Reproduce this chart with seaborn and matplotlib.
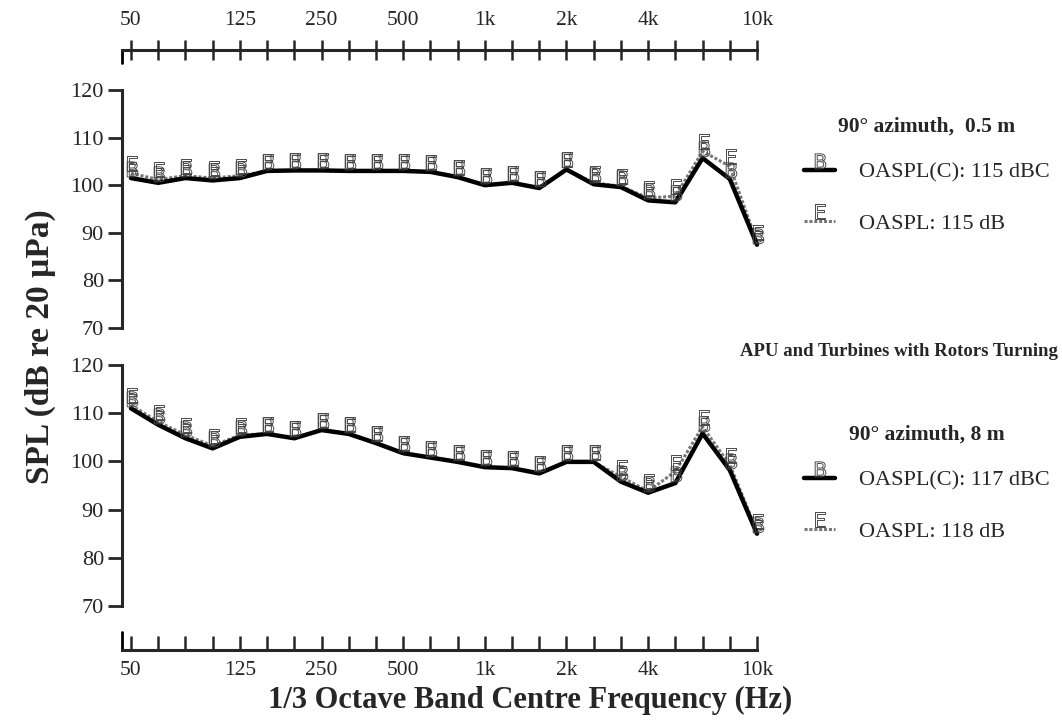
import numpy as np
import pandas as pd
import seaborn as sns
import matplotlib
matplotlib.use("Agg")
import matplotlib.pyplot as plt
from matplotlib.textpath import TextPath
from matplotlib.font_manager import FontProperties
from matplotlib.markers import MarkerStyle
from matplotlib.path import Path
from matplotlib.lines import Line2D

# ---------------- data ----------------
bands = ['50', '63', '80', '100', '125', '160', '200', '250', '315', '400', '500', '630',
         '800', '1k', '1.25k', '1.6k', '2k', '2.5k', '3.15k', '4k', '5k', '6.3k', '8k', '10k']
tick_labels = ['50', '125', '250', '500', '1k', '2k', '4k', '10k']

top_c = [101.5, 100.5, 101.5, 101.0, 101.5, 103.0, 103.1, 103.1, 103.0, 103.0, 103.0, 102.8,
         101.7, 100.0, 100.5, 99.4, 103.3, 100.2, 99.6, 96.8, 96.4, 105.7, 101.3, 87.5]
top_flat = [102.5, 101.2, 102.0, 101.5, 102.0, 103.0, 103.1, 103.1, 103.0, 103.0, 103.0, 102.8,
            101.7, 100.0, 100.5, 99.4, 103.3, 100.5, 99.8, 97.3, 97.7, 107.1, 104.0, 88.0]
bot_c = [111.0, 107.6, 104.8, 102.7, 105.1, 105.7, 104.8, 106.5, 105.7, 103.8, 101.7, 100.8,
         99.9, 98.8, 98.6, 97.5, 99.9, 99.9, 95.8, 93.5, 95.5, 105.8, 98.2, 85.0]
bot_flat = [111.7, 108.2, 105.5, 103.2, 105.5, 105.7, 104.8, 106.5, 105.7, 103.8, 101.7, 100.8,
            99.9, 98.8, 98.6, 97.5, 99.9, 99.9, 96.8, 93.8, 97.9, 107.2, 99.3, 85.5]

top_labels = ['OASPL(C): 115 dBC', 'OASPL: 115 dB']
bot_labels = ['OASPL(C): 117 dBC', 'OASPL: 118 dB']

# ---------------- style ----------------
sns.set_theme(style="white")
plt.rcParams['font.family'] = ['Liberation Serif', 'DejaVu Serif']
plt.rcParams['axes.linewidth'] = 2.0

def letter_marker(ch):
    tp = TextPath((0, 0), ch, size=1, prop=FontProperties(family='DejaVu Sans'))
    v = tp.vertices.copy()
    xmin, xmax = v[:, 0].min(), v[:, 0].max()
    v[:, 0] -= (xmin + xmax) / 2
    v[:, 1] += 0.08
    return MarkerStyle(Path(v, tp.codes))

mk_B = letter_marker('B')
mk_E = letter_marker('E')

W, H = 1062, 725
fig = plt.figure(figsize=(W / 100, H / 100), dpi=100)

x_left, x_right = 122, 757
ax1 = fig.add_axes([x_left / W, (H - 328) / H, (x_right - x_left) / W, 238 / H])
ax2 = fig.add_axes([x_left / W, (H - 606) / H, (x_right - x_left) / W, 241 / H])

idx = np.arange(len(bands))
major_idx = [bands.index(t) for t in tick_labels]

line_c = dict(color='black', linewidth=3.2, solid_joinstyle='round')
line_f = dict(color='#777777', linewidth=2.2, linestyle=(0, (1, 0.6)))
mk_kw = dict(markersize=24, markerfacecolor='none', markeredgecolor='#4a4a4a', markeredgewidth=0.7)

for ax, c, f in [(ax1, top_c, top_flat), (ax2, bot_c, bot_flat)]:
    df = pd.DataFrame({'idx': idx, 'c': c, 'f': f})
    sns.lineplot(data=df, x='idx', y='f', ax=ax, marker=mk_E, clip_on=False, **line_f, **mk_kw)
    sns.lineplot(data=df, x='idx', y='c', ax=ax, clip_on=False, **line_c)
    sns.lineplot(data=df, x='idx', y='c', ax=ax, marker=mk_B, linestyle='none', clip_on=False, **mk_kw)
    ax.set_xlim(-0.33, 23)
    ax.set_ylim(70, 120)
    ax.set_yticks([70, 80, 90, 100, 110, 120])
    ax.set_xlabel('')
    ax.set_ylabel('')
    ax.tick_params(axis='y', direction='out', length=10, width=2, labelsize=16, pad=3, left=True)
    ax.spines['right'].set_visible(False)
    ax.spines['left'].set_linewidth(2.2)

# top panel: frequency axis on top
ax1.spines['bottom'].set_visible(False)
ax1.spines['top'].set_position(('outward', 29))
ax1.spines['top'].set_linewidth(2.2)
ax1.xaxis.set_ticks_position('top')
ax1.xaxis.set_label_position('top')
ax1.set_xticks(major_idx)
ax1.set_xticklabels(tick_labels)
ax1.set_xticks(idx, minor=True)
ax1.tick_params(axis='x', which='both', direction='inout', length=14, width=1.8, top=True, bottom=False)
ax1.tick_params(axis='x', which='major', labelsize=15.5, pad=7)
ax1.add_line(Line2D([0, 0], [1 + 40 / 238, 1 + 27 / 238], transform=ax1.transAxes,
                    color='black', linewidth=2, clip_on=False))

# bottom panel: frequency axis at bottom
ax2.spines['top'].set_visible(False)
ax2.spines['bottom'].set_position(('outward', 31.5))
ax2.spines['bottom'].set_linewidth(2.2)
ax2.set_xticks(major_idx)
ax2.set_xticklabels(tick_labels)
ax2.set_xticks(idx, minor=True)
ax2.tick_params(axis='x', which='both', direction='in', length=10, width=1.8, bottom=True, top=False)
ax2.tick_params(axis='x', which='major', labelsize=15.5, pad=8)
ax2.add_line(Line2D([0, 0], [-44 / 241, -26 / 241], transform=ax2.transAxes,
                    color='black', linewidth=2, clip_on=False))

# legends
def handles():
    hc = Line2D([], [], marker=mk_B, **line_c, **mk_kw)
    hf = Line2D([], [], marker=mk_E, **line_f, **mk_kw)
    return [hc, hf]

for ax, labels, title, ytop in [(ax1, top_labels, '90° azimuth,  0.5 m', 108),
                                (ax2, bot_labels, '90° azimuth, 8 m', 416)]:
    leg = ax.legend(handles(), labels, title=title, loc='upper left',
                    bbox_to_anchor=(795 / W, (H - ytop) / H), bbox_transform=fig.transFigure,
                    frameon=False, fontsize=16, title_fontproperties={'weight': 'bold', 'size': 15.5},
                    handlelength=1.4, handletextpad=1.1, labelspacing=1.38, numpoints=1,
                    borderaxespad=0)
    leg._legend_box.sep = 18

fig.text(1058 / W, (H - 351) / H, 'APU and Turbines with Rotors Turning', ha='right', va='center',
         fontsize=13.5, fontweight='bold')
fig.text(40 / W, (H - 347) / H, 'SPL (dB re 20 µPa)', rotation=90, ha='center', va='center',
         fontsize=24, fontweight='bold')
fig.text(530 / W, (H - 700) / H, '1/3 Octave Band Centre Frequency (Hz)', ha='center', va='center',
         fontsize=22, fontweight='bold')

fig.savefig('out.png', dpi=100)
